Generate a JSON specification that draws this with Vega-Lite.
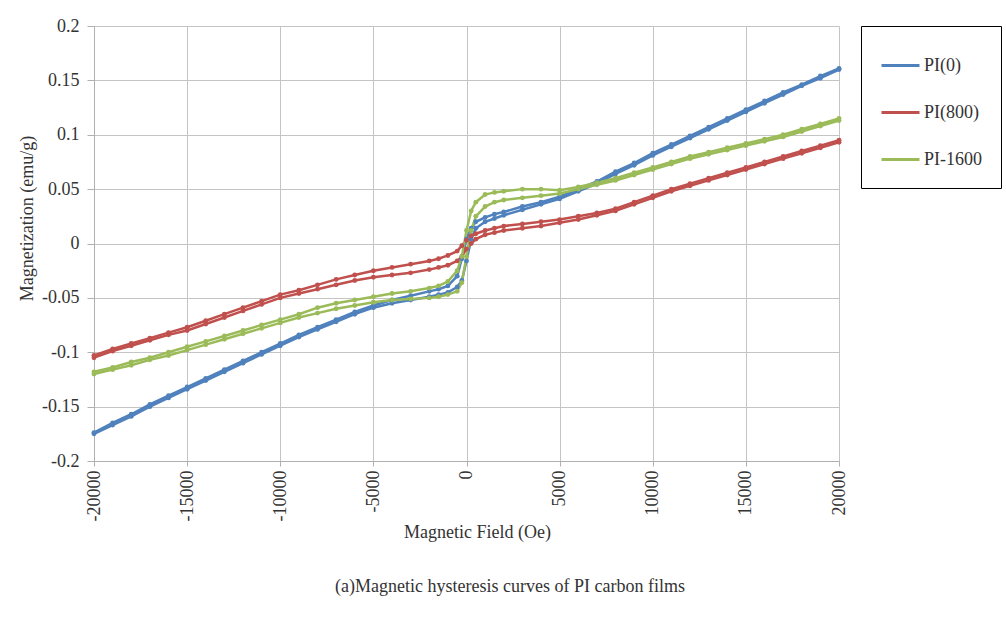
{
"$schema": "https://vega.github.io/schema/vega-lite/v6.json",
"width": 745,
"height": 435,
"autosize": {"type": "none"},
"padding": {"left": 94, "top": 26, "right": 167, "bottom": 171},
"background": "white",
"config": {
  "font": "Liberation Serif",
  "view": {"stroke": null},
  "axis": {"labelFont": "Liberation Serif", "titleFont": "Liberation Serif", "labelColor": "#333333", "titleColor": "#333333", "gridColor": "#c4c4c4", "domainColor": "#b0b0b0", "tickColor": "#b0b0b0", "titleFontWeight": "normal", "labelFontSize": 18, "titleFontSize": 18}
},
"title": {"text": "(a)Magnetic  hysteresis  curves  of  PI  carbon  films", "orient": "bottom", "frame": "bounds", "anchor": "middle", "offset": 36, "fontSize": 18, "fontWeight": "normal", "color": "#333333", "font": "Liberation Serif"},
"data": {"values": [
{"s":"PI(0)","b":"u","h":-20000,"m":-0.175},{"s":"PI(0)","b":"u","h":-19000,"m":-0.167},{"s":"PI(0)","b":"u","h":-18000,"m":-0.159},{"s":"PI(0)","b":"u","h":-17000,"m":-0.150},{"s":"PI(0)","b":"u","h":-16000,"m":-0.142},{"s":"PI(0)","b":"u","h":-15000,"m":-0.134},{"s":"PI(0)","b":"u","h":-14000,"m":-0.126},{"s":"PI(0)","b":"u","h":-13000,"m":-0.118},{"s":"PI(0)","b":"u","h":-12000,"m":-0.110},{"s":"PI(0)","b":"u","h":-11000,"m":-0.102},{"s":"PI(0)","b":"u","h":-10000,"m":-0.094},{"s":"PI(0)","b":"u","h":-9000,"m":-0.086},{"s":"PI(0)","b":"u","h":-8000,"m":-0.079},{"s":"PI(0)","b":"u","h":-7000,"m":-0.072},{"s":"PI(0)","b":"u","h":-6000,"m":-0.065},{"s":"PI(0)","b":"u","h":-5000,"m":-0.059},{"s":"PI(0)","b":"u","h":-4000,"m":-0.055},{"s":"PI(0)","b":"u","h":-3000,"m":-0.052},{"s":"PI(0)","b":"u","h":-2000,"m":-0.049},{"s":"PI(0)","b":"u","h":-1500,"m":-0.047},{"s":"PI(0)","b":"u","h":-1000,"m":-0.045},{"s":"PI(0)","b":"u","h":-500,"m":-0.040},{"s":"PI(0)","b":"u","h":-250,"m":-0.034},{"s":"PI(0)","b":"u","h":0,"m":-0.016},{"s":"PI(0)","b":"u","h":250,"m":0.004},{"s":"PI(0)","b":"u","h":500,"m":0.014},{"s":"PI(0)","b":"u","h":1000,"m":0.020},{"s":"PI(0)","b":"u","h":1500,"m":0.023},{"s":"PI(0)","b":"u","h":2000,"m":0.026},{"s":"PI(0)","b":"u","h":3000,"m":0.031},{"s":"PI(0)","b":"u","h":4000,"m":0.036},{"s":"PI(0)","b":"u","h":5000,"m":0.041},{"s":"PI(0)","b":"u","h":6000,"m":0.048},{"s":"PI(0)","b":"u","h":7000,"m":0.055},{"s":"PI(0)","b":"u","h":8000,"m":0.064},{"s":"PI(0)","b":"u","h":9000,"m":0.072},{"s":"PI(0)","b":"u","h":10000,"m":0.081},{"s":"PI(0)","b":"u","h":11000,"m":0.089},{"s":"PI(0)","b":"u","h":12000,"m":0.097},{"s":"PI(0)","b":"u","h":13000,"m":0.105},{"s":"PI(0)","b":"u","h":14000,"m":0.113},{"s":"PI(0)","b":"u","h":15000,"m":0.121},{"s":"PI(0)","b":"u","h":16000,"m":0.129},{"s":"PI(0)","b":"u","h":17000,"m":0.137},{"s":"PI(0)","b":"u","h":18000,"m":0.145},{"s":"PI(0)","b":"u","h":19000,"m":0.152},{"s":"PI(0)","b":"u","h":20000,"m":0.160},
{"s":"PI(0)","b":"d","h":20000,"m":0.161},{"s":"PI(0)","b":"d","h":19000,"m":0.154},{"s":"PI(0)","b":"d","h":18000,"m":0.146},{"s":"PI(0)","b":"d","h":17000,"m":0.139},{"s":"PI(0)","b":"d","h":16000,"m":0.131},{"s":"PI(0)","b":"d","h":15000,"m":0.123},{"s":"PI(0)","b":"d","h":14000,"m":0.115},{"s":"PI(0)","b":"d","h":13000,"m":0.107},{"s":"PI(0)","b":"d","h":12000,"m":0.099},{"s":"PI(0)","b":"d","h":11000,"m":0.091},{"s":"PI(0)","b":"d","h":10000,"m":0.083},{"s":"PI(0)","b":"d","h":9000,"m":0.074},{"s":"PI(0)","b":"d","h":8000,"m":0.066},{"s":"PI(0)","b":"d","h":7000,"m":0.057},{"s":"PI(0)","b":"d","h":6000,"m":0.050},{"s":"PI(0)","b":"d","h":5000,"m":0.043},{"s":"PI(0)","b":"d","h":4000,"m":0.038},{"s":"PI(0)","b":"d","h":3000,"m":0.034},{"s":"PI(0)","b":"d","h":2000,"m":0.029},{"s":"PI(0)","b":"d","h":1500,"m":0.027},{"s":"PI(0)","b":"d","h":1000,"m":0.024},{"s":"PI(0)","b":"d","h":500,"m":0.020},{"s":"PI(0)","b":"d","h":250,"m":0.014},{"s":"PI(0)","b":"d","h":0,"m":0.004},{"s":"PI(0)","b":"d","h":-250,"m":-0.014},{"s":"PI(0)","b":"d","h":-500,"m":-0.030},{"s":"PI(0)","b":"d","h":-1000,"m":-0.039},{"s":"PI(0)","b":"d","h":-1500,"m":-0.042},{"s":"PI(0)","b":"d","h":-2000,"m":-0.044},{"s":"PI(0)","b":"d","h":-3000,"m":-0.048},{"s":"PI(0)","b":"d","h":-4000,"m":-0.052},{"s":"PI(0)","b":"d","h":-5000,"m":-0.057},{"s":"PI(0)","b":"d","h":-6000,"m":-0.063},{"s":"PI(0)","b":"d","h":-7000,"m":-0.070},{"s":"PI(0)","b":"d","h":-8000,"m":-0.077},{"s":"PI(0)","b":"d","h":-9000,"m":-0.084},{"s":"PI(0)","b":"d","h":-10000,"m":-0.092},{"s":"PI(0)","b":"d","h":-11000,"m":-0.100},{"s":"PI(0)","b":"d","h":-12000,"m":-0.108},{"s":"PI(0)","b":"d","h":-13000,"m":-0.116},{"s":"PI(0)","b":"d","h":-14000,"m":-0.124},{"s":"PI(0)","b":"d","h":-15000,"m":-0.132},{"s":"PI(0)","b":"d","h":-16000,"m":-0.140},{"s":"PI(0)","b":"d","h":-17000,"m":-0.148},{"s":"PI(0)","b":"d","h":-18000,"m":-0.157},{"s":"PI(0)","b":"d","h":-19000,"m":-0.165},{"s":"PI(0)","b":"d","h":-20000,"m":-0.174},
{"s":"PI(800)","b":"u","h":-20000,"m":-0.105},{"s":"PI(800)","b":"u","h":-19000,"m":-0.099},{"s":"PI(800)","b":"u","h":-18000,"m":-0.094},{"s":"PI(800)","b":"u","h":-17000,"m":-0.089},{"s":"PI(800)","b":"u","h":-16000,"m":-0.084},{"s":"PI(800)","b":"u","h":-15000,"m":-0.080},{"s":"PI(800)","b":"u","h":-14000,"m":-0.074},{"s":"PI(800)","b":"u","h":-13000,"m":-0.068},{"s":"PI(800)","b":"u","h":-12000,"m":-0.062},{"s":"PI(800)","b":"u","h":-11000,"m":-0.056},{"s":"PI(800)","b":"u","h":-10000,"m":-0.050},{"s":"PI(800)","b":"u","h":-9000,"m":-0.046},{"s":"PI(800)","b":"u","h":-8000,"m":-0.042},{"s":"PI(800)","b":"u","h":-7000,"m":-0.038},{"s":"PI(800)","b":"u","h":-6000,"m":-0.034},{"s":"PI(800)","b":"u","h":-5000,"m":-0.031},{"s":"PI(800)","b":"u","h":-4000,"m":-0.029},{"s":"PI(800)","b":"u","h":-3000,"m":-0.027},{"s":"PI(800)","b":"u","h":-2000,"m":-0.024},{"s":"PI(800)","b":"u","h":-1500,"m":-0.022},{"s":"PI(800)","b":"u","h":-1000,"m":-0.020},{"s":"PI(800)","b":"u","h":-500,"m":-0.016},{"s":"PI(800)","b":"u","h":-250,"m":-0.012},{"s":"PI(800)","b":"u","h":0,"m":-0.005},{"s":"PI(800)","b":"u","h":250,"m":0.000},{"s":"PI(800)","b":"u","h":500,"m":0.004},{"s":"PI(800)","b":"u","h":1000,"m":0.008},{"s":"PI(800)","b":"u","h":1500,"m":0.010},{"s":"PI(800)","b":"u","h":2000,"m":0.012},{"s":"PI(800)","b":"u","h":3000,"m":0.014},{"s":"PI(800)","b":"u","h":4000,"m":0.016},{"s":"PI(800)","b":"u","h":5000,"m":0.019},{"s":"PI(800)","b":"u","h":6000,"m":0.022},{"s":"PI(800)","b":"u","h":7000,"m":0.026},{"s":"PI(800)","b":"u","h":8000,"m":0.030},{"s":"PI(800)","b":"u","h":9000,"m":0.036},{"s":"PI(800)","b":"u","h":10000,"m":0.042},{"s":"PI(800)","b":"u","h":11000,"m":0.048},{"s":"PI(800)","b":"u","h":12000,"m":0.053},{"s":"PI(800)","b":"u","h":13000,"m":0.058},{"s":"PI(800)","b":"u","h":14000,"m":0.063},{"s":"PI(800)","b":"u","h":15000,"m":0.068},{"s":"PI(800)","b":"u","h":16000,"m":0.073},{"s":"PI(800)","b":"u","h":17000,"m":0.078},{"s":"PI(800)","b":"u","h":18000,"m":0.083},{"s":"PI(800)","b":"u","h":19000,"m":0.088},{"s":"PI(800)","b":"u","h":20000,"m":0.093},
{"s":"PI(800)","b":"d","h":20000,"m":0.095},{"s":"PI(800)","b":"d","h":19000,"m":0.090},{"s":"PI(800)","b":"d","h":18000,"m":0.085},{"s":"PI(800)","b":"d","h":17000,"m":0.080},{"s":"PI(800)","b":"d","h":16000,"m":0.075},{"s":"PI(800)","b":"d","h":15000,"m":0.070},{"s":"PI(800)","b":"d","h":14000,"m":0.065},{"s":"PI(800)","b":"d","h":13000,"m":0.060},{"s":"PI(800)","b":"d","h":12000,"m":0.055},{"s":"PI(800)","b":"d","h":11000,"m":0.050},{"s":"PI(800)","b":"d","h":10000,"m":0.044},{"s":"PI(800)","b":"d","h":9000,"m":0.038},{"s":"PI(800)","b":"d","h":8000,"m":0.032},{"s":"PI(800)","b":"d","h":7000,"m":0.028},{"s":"PI(800)","b":"d","h":6000,"m":0.025},{"s":"PI(800)","b":"d","h":5000,"m":0.022},{"s":"PI(800)","b":"d","h":4000,"m":0.020},{"s":"PI(800)","b":"d","h":3000,"m":0.018},{"s":"PI(800)","b":"d","h":2000,"m":0.016},{"s":"PI(800)","b":"d","h":1500,"m":0.014},{"s":"PI(800)","b":"d","h":1000,"m":0.012},{"s":"PI(800)","b":"d","h":500,"m":0.009},{"s":"PI(800)","b":"d","h":250,"m":0.007},{"s":"PI(800)","b":"d","h":0,"m":0.003},{"s":"PI(800)","b":"d","h":-250,"m":-0.002},{"s":"PI(800)","b":"d","h":-500,"m":-0.007},{"s":"PI(800)","b":"d","h":-1000,"m":-0.011},{"s":"PI(800)","b":"d","h":-1500,"m":-0.014},{"s":"PI(800)","b":"d","h":-2000,"m":-0.016},{"s":"PI(800)","b":"d","h":-3000,"m":-0.019},{"s":"PI(800)","b":"d","h":-4000,"m":-0.022},{"s":"PI(800)","b":"d","h":-5000,"m":-0.025},{"s":"PI(800)","b":"d","h":-6000,"m":-0.029},{"s":"PI(800)","b":"d","h":-7000,"m":-0.033},{"s":"PI(800)","b":"d","h":-8000,"m":-0.038},{"s":"PI(800)","b":"d","h":-9000,"m":-0.043},{"s":"PI(800)","b":"d","h":-10000,"m":-0.047},{"s":"PI(800)","b":"d","h":-11000,"m":-0.053},{"s":"PI(800)","b":"d","h":-12000,"m":-0.059},{"s":"PI(800)","b":"d","h":-13000,"m":-0.065},{"s":"PI(800)","b":"d","h":-14000,"m":-0.071},{"s":"PI(800)","b":"d","h":-15000,"m":-0.077},{"s":"PI(800)","b":"d","h":-16000,"m":-0.082},{"s":"PI(800)","b":"d","h":-17000,"m":-0.087},{"s":"PI(800)","b":"d","h":-18000,"m":-0.092},{"s":"PI(800)","b":"d","h":-19000,"m":-0.097},{"s":"PI(800)","b":"d","h":-20000,"m":-0.103},
{"s":"PI-1600","b":"u","h":-20000,"m":-0.120},{"s":"PI-1600","b":"u","h":-19000,"m":-0.116},{"s":"PI-1600","b":"u","h":-18000,"m":-0.112},{"s":"PI-1600","b":"u","h":-17000,"m":-0.107},{"s":"PI-1600","b":"u","h":-16000,"m":-0.103},{"s":"PI-1600","b":"u","h":-15000,"m":-0.098},{"s":"PI-1600","b":"u","h":-14000,"m":-0.093},{"s":"PI-1600","b":"u","h":-13000,"m":-0.088},{"s":"PI-1600","b":"u","h":-12000,"m":-0.083},{"s":"PI-1600","b":"u","h":-11000,"m":-0.078},{"s":"PI-1600","b":"u","h":-10000,"m":-0.073},{"s":"PI-1600","b":"u","h":-9000,"m":-0.068},{"s":"PI-1600","b":"u","h":-8000,"m":-0.064},{"s":"PI-1600","b":"u","h":-7000,"m":-0.060},{"s":"PI-1600","b":"u","h":-6000,"m":-0.057},{"s":"PI-1600","b":"u","h":-5000,"m":-0.054},{"s":"PI-1600","b":"u","h":-4000,"m":-0.052},{"s":"PI-1600","b":"u","h":-3000,"m":-0.051},{"s":"PI-1600","b":"u","h":-2000,"m":-0.050},{"s":"PI-1600","b":"u","h":-1500,"m":-0.049},{"s":"PI-1600","b":"u","h":-1000,"m":-0.047},{"s":"PI-1600","b":"u","h":-500,"m":-0.044},{"s":"PI-1600","b":"u","h":-250,"m":-0.036},{"s":"PI-1600","b":"u","h":0,"m":-0.012},{"s":"PI-1600","b":"u","h":250,"m":0.012},{"s":"PI-1600","b":"u","h":500,"m":0.025},{"s":"PI-1600","b":"u","h":1000,"m":0.034},{"s":"PI-1600","b":"u","h":1500,"m":0.038},{"s":"PI-1600","b":"u","h":2000,"m":0.040},{"s":"PI-1600","b":"u","h":3000,"m":0.042},{"s":"PI-1600","b":"u","h":4000,"m":0.044},{"s":"PI-1600","b":"u","h":5000,"m":0.046},{"s":"PI-1600","b":"u","h":6000,"m":0.050},{"s":"PI-1600","b":"u","h":7000,"m":0.054},{"s":"PI-1600","b":"u","h":8000,"m":0.058},{"s":"PI-1600","b":"u","h":9000,"m":0.063},{"s":"PI-1600","b":"u","h":10000,"m":0.068},{"s":"PI-1600","b":"u","h":11000,"m":0.073},{"s":"PI-1600","b":"u","h":12000,"m":0.078},{"s":"PI-1600","b":"u","h":13000,"m":0.082},{"s":"PI-1600","b":"u","h":14000,"m":0.086},{"s":"PI-1600","b":"u","h":15000,"m":0.090},{"s":"PI-1600","b":"u","h":16000,"m":0.094},{"s":"PI-1600","b":"u","h":17000,"m":0.098},{"s":"PI-1600","b":"u","h":18000,"m":0.103},{"s":"PI-1600","b":"u","h":19000,"m":0.108},{"s":"PI-1600","b":"u","h":20000,"m":0.113},
{"s":"PI-1600","b":"d","h":20000,"m":0.115},{"s":"PI-1600","b":"d","h":19000,"m":0.110},{"s":"PI-1600","b":"d","h":18000,"m":0.105},{"s":"PI-1600","b":"d","h":17000,"m":0.100},{"s":"PI-1600","b":"d","h":16000,"m":0.096},{"s":"PI-1600","b":"d","h":15000,"m":0.092},{"s":"PI-1600","b":"d","h":14000,"m":0.088},{"s":"PI-1600","b":"d","h":13000,"m":0.084},{"s":"PI-1600","b":"d","h":12000,"m":0.080},{"s":"PI-1600","b":"d","h":11000,"m":0.075},{"s":"PI-1600","b":"d","h":10000,"m":0.070},{"s":"PI-1600","b":"d","h":9000,"m":0.065},{"s":"PI-1600","b":"d","h":8000,"m":0.060},{"s":"PI-1600","b":"d","h":7000,"m":0.056},{"s":"PI-1600","b":"d","h":6000,"m":0.052},{"s":"PI-1600","b":"d","h":5000,"m":0.049},{"s":"PI-1600","b":"d","h":4000,"m":0.050},{"s":"PI-1600","b":"d","h":3000,"m":0.050},{"s":"PI-1600","b":"d","h":2000,"m":0.048},{"s":"PI-1600","b":"d","h":1500,"m":0.047},{"s":"PI-1600","b":"d","h":1000,"m":0.045},{"s":"PI-1600","b":"d","h":500,"m":0.038},{"s":"PI-1600","b":"d","h":250,"m":0.030},{"s":"PI-1600","b":"d","h":0,"m":0.012},{"s":"PI-1600","b":"d","h":-250,"m":-0.012},{"s":"PI-1600","b":"d","h":-500,"m":-0.025},{"s":"PI-1600","b":"d","h":-1000,"m":-0.035},{"s":"PI-1600","b":"d","h":-1500,"m":-0.039},{"s":"PI-1600","b":"d","h":-2000,"m":-0.041},{"s":"PI-1600","b":"d","h":-3000,"m":-0.044},{"s":"PI-1600","b":"d","h":-4000,"m":-0.046},{"s":"PI-1600","b":"d","h":-5000,"m":-0.049},{"s":"PI-1600","b":"d","h":-6000,"m":-0.052},{"s":"PI-1600","b":"d","h":-7000,"m":-0.055},{"s":"PI-1600","b":"d","h":-8000,"m":-0.059},{"s":"PI-1600","b":"d","h":-9000,"m":-0.065},{"s":"PI-1600","b":"d","h":-10000,"m":-0.070},{"s":"PI-1600","b":"d","h":-11000,"m":-0.075},{"s":"PI-1600","b":"d","h":-12000,"m":-0.080},{"s":"PI-1600","b":"d","h":-13000,"m":-0.085},{"s":"PI-1600","b":"d","h":-14000,"m":-0.090},{"s":"PI-1600","b":"d","h":-15000,"m":-0.095},{"s":"PI-1600","b":"d","h":-16000,"m":-0.100},{"s":"PI-1600","b":"d","h":-17000,"m":-0.105},{"s":"PI-1600","b":"d","h":-18000,"m":-0.109},{"s":"PI-1600","b":"d","h":-19000,"m":-0.114},{"s":"PI-1600","b":"d","h":-20000,"m":-0.118}
]},
"mark": {"type": "line", "strokeWidth": 2.5, "point": {"filled": true, "size": 24}},
"encoding": {
  "x": {"field": "h", "type": "quantitative", "scale": {"domain": [-20000, 20000], "nice": false},
        "axis": {"title": "Magnetic  Field  (Oe)", "titleX": 383, "values": [-20000, -15000, -10000, -5000, 0, 5000, 10000, 15000, 20000], "labelExpr": "datum.value + ''", "labelAngle": -90, "labelPadding": 4, "tickSize": 5, "titlePadding": 3, "labelFlush": false, "labelOverlap": false}},
  "y": {"field": "m", "type": "quantitative", "scale": {"domain": [-0.2, 0.2], "nice": false},
        "axis": {"title": "Magnetization  (emu/g)", "titleY": 192, "values": [-0.2, -0.15, -0.1, -0.05, 0, 0.05, 0.1, 0.15, 0.2], "labelExpr": "datum.value + ''", "tickSize": 7, "labelPadding": 8, "titlePadding": 5, "labelFlush": false, "labelOverlap": false}},
  "color": {"field": "s", "type": "nominal", "scale": {"domain": ["PI(0)", "PI(800)", "PI-1600"], "range": ["#4F81BD", "#C0504D", "#9BBB59"]},
            "legend": {"title": null, "orient": "right", "offset": 17, "padding": 19, "strokeColor": "#000000", "symbolType": "stroke", "symbolSize": 1444, "symbolStrokeWidth": 3, "labelFontSize": 18, "labelFont": "Liberation Serif", "labelColor": "#333333", "rowPadding": 17, "labelOffset": 3}},
  "detail": {"field": "b"}
}
}
